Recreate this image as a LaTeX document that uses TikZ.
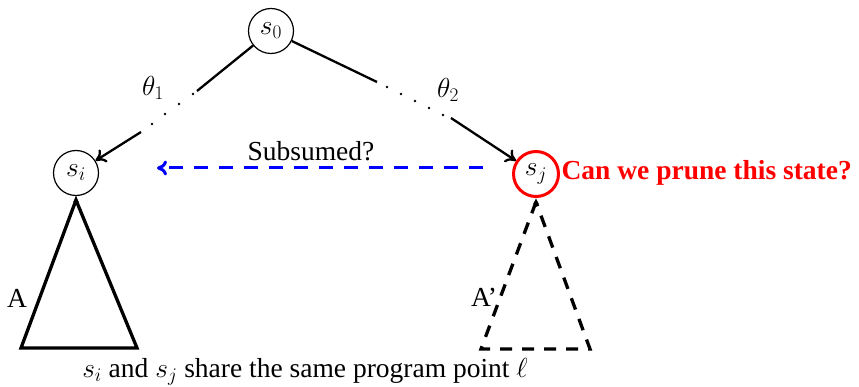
\RequirePackage{fix-cm}
\documentclass[tikz,border=0pt]{standalone}
\usepackage{fontspec}
\setmainfont{Liberation Serif}
\usetikzlibrary{arrows.meta,calc}
\begin{document}
\begin{tikzpicture}[x=1pt,y=1pt,
  every node/.style={font=\fontsize{27.5}{33}\selectfont},
  st/.style={circle,draw,line width=1.2pt,minimum size=45pt,inner sep=0pt},
  tipto/.style={-{To[length=10pt,width=15pt]}},
  edge/.style={line width=2.3pt,tipto},
  plain/.style={line width=2.3pt},
  dotm/.style={circle,fill,inner sep=0pt,minimum size=2.6pt},
  tri/.style={line width=3.3pt,line join=miter},
  dtri/.style={line width=3.3pt,dash pattern=on 12pt off 10pt},
  tiny/.style={line width=1pt,-{Latex[length=6pt,width=6pt]}}]
\useasboundingbox (0,0) rectangle (859,386);
% states
\node[st] (s0) at (271,355) {$s_0$};
\node[st] (si) at (76,213) {$s_i$};
\node[st,draw=red,line width=3pt] (sj) at (536,212) {$s_j$};
\node[anchor=west,text=red,font=\fontsize{27.5}{33}\selectfont\bfseries] (q) at (558,213) {Can we prune this state?};
% left path
\coordinate (p1) at (197,295);
\coordinate (q1) at (141,254);
\draw[plain] (s0) -- (p1);
\node[dotm] (d11) at (193,292) {};
\node[dotm] (d12) at (179,282) {};
\node[dotm] (d13) at (165,272) {};
\node[dotm] (d14) at (152,262) {};
\draw[edge] (q1) -- (si);
\node (t1) at (153,298) {$\theta_1$};
% right path
\coordinate (p2) at (377,304);
\coordinate (q2) at (451,268);
\draw[plain] (s0) -- (p2);
\node[dotm] (d21) at (387,299) {};
\node[dotm] (d22) at (401,292) {};
\node[dotm] (d23) at (415,285) {};
\node[dotm] (d24) at (429,278) {};
\node[dotm] (d25) at (443,271) {};
\draw[edge] (q2) -- (sj);
\node (t2) at (448,296) {$\theta_2$};
% subsumption
\coordinate (b1) at (483,218);
\coordinate (b2) at (157,218);
\draw[blue,line width=3pt,dash pattern=on 14pt off 11pt,tipto] (b1) -- (b2);
\node (sub) at (311,235) {Subsumed?};
% left triangle
\coordinate (l1) at (21,38);
\coordinate (l2) at (137,38);
\coordinate (la) at ($(si.south)+(0,-4)$);
\draw[tri] (la) -- (l1) -- (l2) -- cycle;
\coordinate (lt) at ($(si.south)+(0,-8)$);
\draw[tiny] (lt) -- (si.south);
\node (A) at (17,88) {A};
% right triangle
\coordinate (r1) at (481,37);
\coordinate (r2) at (590,37);
\coordinate (ra) at ($(sj.south)+(0,-4)$);
\draw[dtri] (ra) -- (r1) -- (r2) -- cycle;
\coordinate (rt) at ($(sj.south)+(0,-8)$);
\draw[tiny] (rt) -- (sj.south);
\node (Ap) at (484,89) {A’};
% caption
\node (cap) at (305,14) {$s_i$ and $s_j$ share the same program point $\ell$};
\end{tikzpicture}
\end{document}
